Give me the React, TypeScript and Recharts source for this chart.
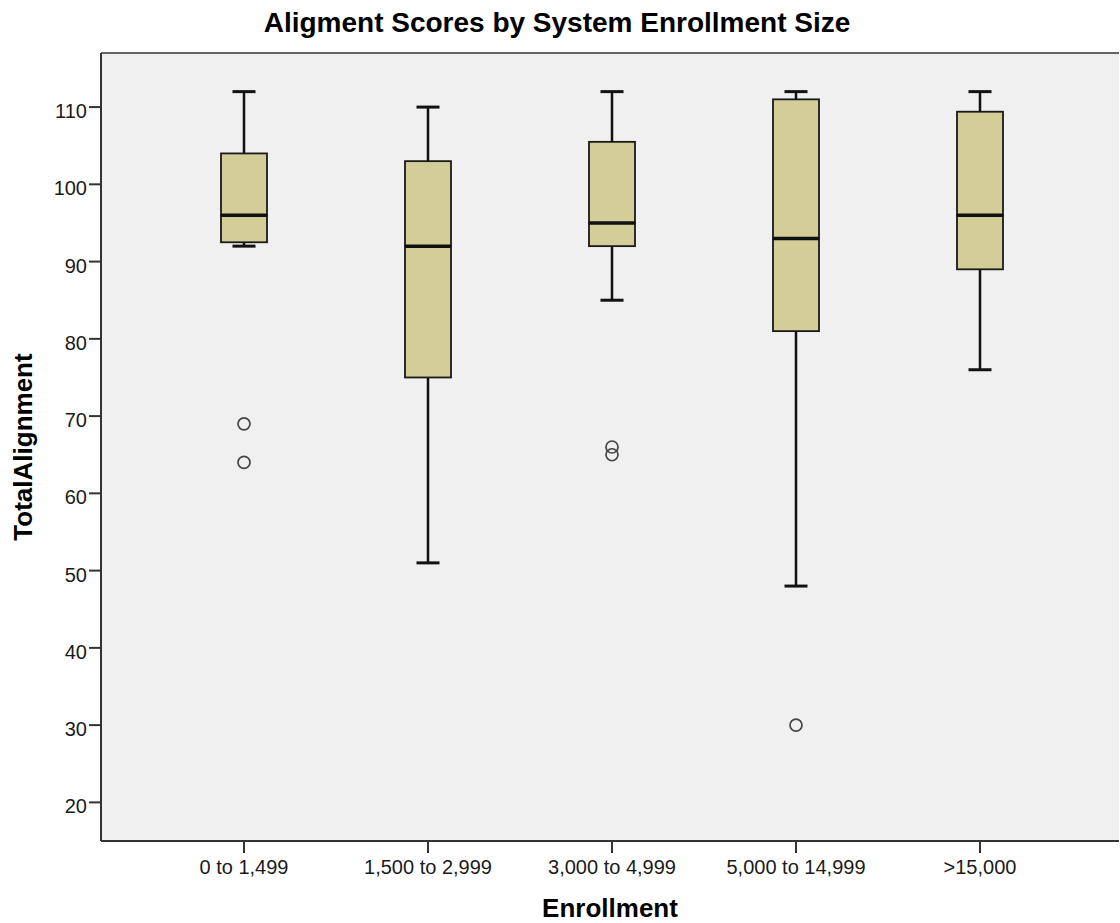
import {
  Bar,
  CartesianGrid,
  ComposedChart,
  ReferenceLine,
  Scatter,
  XAxis,
  YAxis,
} from "recharts";

const categories = [
  "0 to 1,499",
  "1,500 to 2,999",
  "3,000 to 4,999",
  "5,000 to 14,999",
  ">15,000",
];
const minValues = [92, 51, 85, 48, 76];
const q1Values = [92.5, 75, 92, 81, 89];
const medianValues = [96, 92, 95, 93, 96];
const q3Values = [104, 103, 105.5, 111, 109.4];
const maxValues = [112, 110, 112, 112, 112];
// outliers (circles), at most two per group
const outlierAValues = [69, null, 66, 30, null];
const outlierBValues = [64, null, 65, null, null];
const yTicks = [20, 30, 40, 50, 60, 70, 80, 90, 100, 110];
const yDomain = [15, 117];

const FONT = '"Liberation Sans", Arial, sans-serif';
const BOX_FILL = "#d3ce97";
const INK = "#111";

// stacked segments for the box plot
const boxRows = categories.map((name, i) => ({
  name,
  base: minValues[i],
  lowWhisker: q1Values[i] - minValues[i],
  lowBox: medianValues[i] - q1Values[i],
  highBox: q3Values[i] - medianValues[i],
  highWhisker: maxValues[i] - q3Values[i],
  outlierA: outlierAValues[i],
  outlierB: outlierBValues[i],
}));

const Empty = () => <g />;

const LowWhisker = (props: any) => {
  const { x, y, width, height } = props;
  const cx = x + width / 2;
  const bottom = y + height;
  return (
    <g>
      <line x1={cx} x2={cx} y1={y} y2={bottom} stroke={INK} strokeWidth={2.5} />
      <line x1={cx - 11.5} x2={cx + 11.5} y1={bottom} y2={bottom} stroke={INK} strokeWidth={3} />
    </g>
  );
};

const HighWhisker = (props: any) => {
  const { x, y, width, height } = props;
  const cx = x + width / 2;
  return (
    <g>
      <line x1={cx} x2={cx} y1={y} y2={y + height} stroke={INK} strokeWidth={2.5} />
      <line x1={cx - 11.5} x2={cx + 11.5} y1={y} y2={y} stroke={INK} strokeWidth={3} />
    </g>
  );
};

const LowBox = (props: any) => {
  const { x, y, width, height } = props;
  return (
    <rect x={x} y={y} width={width} height={height} fill={BOX_FILL} stroke="#1a1a1a" strokeWidth={1.8} />
  );
};

const HighBox = (props: any) => {
  const { x, y, width, height } = props;
  const median = y + height;
  return (
    <g>
      <rect x={x} y={y} width={width} height={height} fill={BOX_FILL} stroke="#1a1a1a" strokeWidth={1.8} />
      <line x1={x} x2={x + width} y1={median} y2={median} stroke={INK} strokeWidth={3.5} />
    </g>
  );
};

const makeOutlier = (key: string) => (props: any) => {
  const { cx, cy, payload } = props;
  if (payload == null || payload[key] == null || !Number.isFinite(cy)) return <g />;
  return <circle cx={cx} cy={cy} r={6} fill="none" stroke="#444" strokeWidth={1.7} />;
};

const renderYTick = (props: any) => {
  const { x, y, payload } = props;
  return (
    <text x={x} y={y + 11} textAnchor="end" fontFamily={FONT} fontSize={20} fill="#1a1a1a">
      {payload.value}
    </text>
  );
};

const renderXTick = (props: any) => {
  const { x, y, payload } = props;
  return (
    <text x={x} y={y + 14} textAnchor="middle" fontFamily={FONT} fontSize={20} fill="#1a1a1a">
      {payload.value}
    </text>
  );
};

const renderYLabel = (props: any) => {
  const vb = props.viewBox || { x: 0, y: 53, width: 101, height: 788 };
  const lx = vb.x + 32;
  const ly = vb.y + vb.height / 2;
  return (
    <text
      x={lx}
      y={ly}
      transform={`rotate(-90, ${lx}, ${ly})`}
      textAnchor="middle"
      fontFamily={FONT}
      fontSize={26}
      fontWeight="bold"
      fill="#000"
    >
      TotalAlignment
    </text>
  );
};

const renderXLabel = (props: any) => {
  const vb = props.viewBox || { x: 101, y: 841, width: 1018, height: 82 };
  return (
    <text
      x={vb.x + vb.width / 2}
      y={vb.y + 76}
      textAnchor="middle"
      fontFamily={FONT}
      fontSize={26}
      fontWeight="bold"
      fill="#000"
    >
      Enrollment
    </text>
  );
};

const App = () => {
  return (
    <div style={{ position: "absolute", left: 0, top: 0, width: 1120, height: 923, background: "#fff" }}>
      <svg
        width={1120}
        height={45}
        style={{ position: "absolute", left: 0, top: 0 }}
      >
        <text x={557} y={32} textAnchor="middle" fontFamily={FONT} fontSize={28} fontWeight="bold" fill="#000">
          Aligment Scores by System Enrollment Size
        </text>
      </svg>
      <ComposedChart
        width={1120}
        height={923}
        data={boxRows}
        margin={{ top: 53, right: 1, bottom: 0, left: 0 }}
      >
        <CartesianGrid horizontal={false} vertical={false} fill="#f0f0f0" />
        <XAxis
          dataKey="name"
          type="category"
          height={82}
          padding={{ left: 51, right: 47 }}
          allowDuplicatedCategory={false}
          axisLine={{ stroke: "#333", strokeWidth: 2 }}
          tickLine={{ stroke: "#333", strokeWidth: 2 }}
          tickSize={12}
          tickMargin={7}
          tick={renderXTick}
          interval={0}
          label={{ content: renderXLabel }}
        />
        <YAxis
          type="number"
          domain={yDomain}
          allowDataOverflow
          ticks={yTicks}
          width={101}
          axisLine={{ stroke: "#333", strokeWidth: 2 }}
          tickLine={{ stroke: "#333", strokeWidth: 2 }}
          tickSize={12}
          tickMargin={2}
          tick={renderYTick}
          label={{ content: renderYLabel }}
        />
        <YAxis
          yAxisId="frame"
          orientation="right"
          width={0}
          tick={false}
          tickLine={false}
          axisLine={{ stroke: "#aaa", strokeWidth: 1 }}
        />
        {/* top edge of the plot frame */}
        <ReferenceLine y={yDomain[1]} stroke="#333" strokeWidth={1.5} ifOverflow="extendDomain" />
        <Bar dataKey="base" stackId="box" barSize={46} shape={Empty} isAnimationActive={false} />
        <Bar dataKey="lowWhisker" stackId="box" barSize={46} shape={LowWhisker} isAnimationActive={false} />
        <Bar dataKey="lowBox" stackId="box" barSize={46} shape={LowBox} isAnimationActive={false} />
        <Bar dataKey="highBox" stackId="box" barSize={46} shape={HighBox} isAnimationActive={false} />
        <Bar dataKey="highWhisker" stackId="box" barSize={46} shape={HighWhisker} isAnimationActive={false} />
        <Scatter dataKey="outlierA" shape={makeOutlier("outlierA")} isAnimationActive={false} />
        <Scatter dataKey="outlierB" shape={makeOutlier("outlierB")} isAnimationActive={false} />
      </ComposedChart>
    </div>
  );
};

export default App;
